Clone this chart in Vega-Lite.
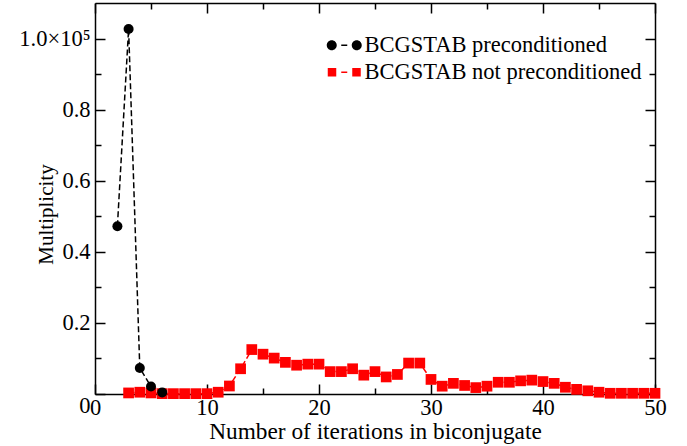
{
  "$schema": "https://vega.github.io/schema/vega-lite/v6.json",
  "width": 560,
  "height": 391,
  "autosize": "none",
  "padding": {"left": 95, "top": 3, "right": 32, "bottom": 52},
  "background": "white",
  "config": {
    "view": {"stroke": null},
    "font": "Liberation Serif",
    "axis": {
      "labelFont": "Liberation Serif",
      "titleFont": "Liberation Serif",
      "labelFontSize": 22.5,
      "titleFontSize": 23.3,
      "titleFontWeight": "normal",
      "labelColor": "black",
      "titleColor": "black",
      "domainColor": "black",
      "domainWidth": 1.5,
      "tickColor": "black",
      "tickWidth": 1.5,
      "labelFlush": false,
      "grid": false
    }
  },
  "data": {
    "values": [
      {"series": "BCGSTAB preconditioned", "x": 2, "y": 47200},
      {"series": "BCGSTAB preconditioned", "x": 3, "y": 102700},
      {"series": "BCGSTAB preconditioned", "x": 4, "y": 7300},
      {"series": "BCGSTAB preconditioned", "x": 5, "y": 2100},
      {"series": "BCGSTAB preconditioned", "x": 6, "y": 450},
      {"series": "BCGSTAB not preconditioned", "x": 3, "y": 300},
      {"series": "BCGSTAB not preconditioned", "x": 4, "y": 500},
      {"series": "BCGSTAB not preconditioned", "x": 5, "y": 300},
      {"series": "BCGSTAB not preconditioned", "x": 6, "y": 100},
      {"series": "BCGSTAB not preconditioned", "x": 7, "y": 100},
      {"series": "BCGSTAB not preconditioned", "x": 8, "y": 100},
      {"series": "BCGSTAB not preconditioned", "x": 9, "y": 100},
      {"series": "BCGSTAB not preconditioned", "x": 10, "y": 100},
      {"series": "BCGSTAB not preconditioned", "x": 11, "y": 500},
      {"series": "BCGSTAB not preconditioned", "x": 12, "y": 2250},
      {"series": "BCGSTAB not preconditioned", "x": 13, "y": 7100},
      {"series": "BCGSTAB not preconditioned", "x": 14, "y": 12500},
      {"series": "BCGSTAB not preconditioned", "x": 15, "y": 11200},
      {"series": "BCGSTAB not preconditioned", "x": 16, "y": 10100},
      {"series": "BCGSTAB not preconditioned", "x": 17, "y": 8900},
      {"series": "BCGSTAB not preconditioned", "x": 18, "y": 8100},
      {"series": "BCGSTAB not preconditioned", "x": 19, "y": 8400},
      {"series": "BCGSTAB not preconditioned", "x": 20, "y": 8400},
      {"series": "BCGSTAB not preconditioned", "x": 21, "y": 6300},
      {"series": "BCGSTAB not preconditioned", "x": 22, "y": 6300},
      {"series": "BCGSTAB not preconditioned", "x": 23, "y": 7100},
      {"series": "BCGSTAB not preconditioned", "x": 24, "y": 5300},
      {"series": "BCGSTAB not preconditioned", "x": 25, "y": 6300},
      {"series": "BCGSTAB not preconditioned", "x": 26, "y": 4800},
      {"series": "BCGSTAB not preconditioned", "x": 27, "y": 5500},
      {"series": "BCGSTAB not preconditioned", "x": 28, "y": 8700},
      {"series": "BCGSTAB not preconditioned", "x": 29, "y": 8700},
      {"series": "BCGSTAB not preconditioned", "x": 30, "y": 4100},
      {"series": "BCGSTAB not preconditioned", "x": 31, "y": 2200},
      {"series": "BCGSTAB not preconditioned", "x": 32, "y": 3000},
      {"series": "BCGSTAB not preconditioned", "x": 33, "y": 2400},
      {"series": "BCGSTAB not preconditioned", "x": 34, "y": 1800},
      {"series": "BCGSTAB not preconditioned", "x": 35, "y": 2200},
      {"series": "BCGSTAB not preconditioned", "x": 36, "y": 3300},
      {"series": "BCGSTAB not preconditioned", "x": 37, "y": 3300},
      {"series": "BCGSTAB not preconditioned", "x": 38, "y": 3700},
      {"series": "BCGSTAB not preconditioned", "x": 39, "y": 3900},
      {"series": "BCGSTAB not preconditioned", "x": 40, "y": 3500},
      {"series": "BCGSTAB not preconditioned", "x": 41, "y": 3000},
      {"series": "BCGSTAB not preconditioned", "x": 42, "y": 1900},
      {"series": "BCGSTAB not preconditioned", "x": 43, "y": 1300},
      {"series": "BCGSTAB not preconditioned", "x": 44, "y": 900},
      {"series": "BCGSTAB not preconditioned", "x": 45, "y": 500},
      {"series": "BCGSTAB not preconditioned", "x": 46, "y": 200},
      {"series": "BCGSTAB not preconditioned", "x": 47, "y": 200},
      {"series": "BCGSTAB not preconditioned", "x": 48, "y": 200},
      {"series": "BCGSTAB not preconditioned", "x": 49, "y": 200},
      {"series": "BCGSTAB not preconditioned", "x": 50, "y": 200}
    ]
  },
  "resolve": {"axis": {"x": "independent", "y": "independent"}},
  "layer": [
    {
      "transform": [{"filter": "datum.series === 'BCGSTAB preconditioned'"}],
      "mark": {"type": "line", "strokeDash": [6, 3], "strokeWidth": 1.5},
      "encoding": {
        "x": {"field": "x", "type": "quantitative", "scale": {"domain": [0, 50], "nice": false},
          "axis": {"orient": "bottom", "values": [0, 10, 20, 30, 40, 50], "tickSize": -10, "labelPadding": 30, "labelBaseline": "alphabetic", "title": "Number of iterations in biconjugate", "titleBaseline": "alphabetic", "titleY": 44}},
        "y": {"field": "y", "type": "quantitative", "scale": {"domain": [0, 110000], "nice": false},
          "axis": {"orient": "left", "values": [0, 20000, 40000, 60000, 80000, 100000], "tickSize": -10, "labelPadding": 15,
            "labelExpr": "datum.value == 0 ? '0' : (datum.value == 100000 ? '1.0×10⁵' : format(datum.value / 100000, '.1f'))",
            "labelBaseline": {"condition": {"test": "datum.value == 0", "value": "top"}, "value": "middle"},
            "title": "Multiplicity", "titleFontSize": 21, "titleBaseline": "alphabetic", "titleAngle": -90, "titleX": -43, "titleY": 211}},
        "color": {"field": "series", "type": "nominal", "scale": {"domain": ["BCGSTAB preconditioned", "BCGSTAB not preconditioned"], "range": ["#000000", "#ff0000"]},
          "legend": {
            "orient": "none", "legendX": 238, "legendY": 31, "title": null, "padding": 0,
            "labelFont": "Liberation Serif", "labelFontSize": 22.5, "labelColor": "black", "labelLimit": 0,
            "labelOffset": 9, "symbolSize": 100, "rowPadding": 4, "symbolType": "circle",
            "encode": {"symbols": {"update": {
              "shape": {"signal": "datum.value === 'BCGSTAB preconditioned' ? 'M -3.5,0 A 1,1 0 1,0 -1.5,0 A 1,1 0 1,0 -3.5,0 Z M 1.5,0 A 1,1 0 1,0 3.5,0 A 1,1 0 1,0 1.5,0 Z M -0.6,-0.16 L 0.6,-0.16 L 0.6,0.16 L -0.6,0.16 Z' : 'M -3.3,-0.85 L -1.6,-0.85 L -1.6,0.85 L -3.3,0.85 Z M 1.6,-0.85 L 3.3,-0.85 L 3.3,0.85 L 1.6,0.85 Z M -0.6,-0.16 L 0.6,-0.16 L 0.6,0.16 L -0.6,0.16 Z'"},
              "fill": {"signal": "datum.value === 'BCGSTAB preconditioned' ? '#000000' : '#ff0000'"},
              "stroke": {"value": null},
              "strokeWidth": {"value": 0},
              "strokeDash": {"value": []},
              "opacity": {"value": 1},
              "fillOpacity": {"value": 1}
            }}}
          }}
      }
    },
    {
      "transform": [{"filter": "datum.series === 'BCGSTAB not preconditioned'"}],
      "mark": {"type": "line", "strokeDash": [6, 3], "strokeWidth": 1.5},
      "encoding": {
        "x": {"field": "x", "type": "quantitative", "axis": {"orient": "top", "values": [0, 10, 20, 30, 40, 50], "tickSize": -10, "labels": false, "title": null}},
        "y": {"field": "y", "type": "quantitative", "axis": {"orient": "right", "values": [0, 20000, 40000, 60000, 80000, 100000], "tickSize": -10, "labels": false, "title": null}},
        "color": {"field": "series", "type": "nominal"}
      }
    },
    {
      "transform": [{"filter": "datum.series === 'BCGSTAB not preconditioned'"}],
      "mark": {"type": "point", "shape": "square", "filled": true, "size": 115, "opacity": 1},
      "encoding": {
        "x": {"field": "x", "type": "quantitative", "axis": {"orient": "bottom", "values": [5, 15, 25, 35, 45], "tickSize": -6, "labels": false, "domain": false, "title": null}},
        "y": {"field": "y", "type": "quantitative", "axis": {"orient": "left", "values": [10000, 30000, 50000, 70000, 90000], "tickSize": -6, "labels": false, "domain": false, "title": null}},
        "color": {"field": "series", "type": "nominal"}
      }
    },
    {
      "transform": [{"filter": "datum.series === 'BCGSTAB preconditioned'"}],
      "mark": {"type": "point", "shape": "circle", "filled": true, "size": 100, "opacity": 1},
      "encoding": {
        "x": {"field": "x", "type": "quantitative", "axis": {"orient": "top", "values": [5, 15, 25, 35, 45], "tickSize": -6, "labels": false, "domain": false, "title": null}},
        "y": {"field": "y", "type": "quantitative", "axis": {"orient": "right", "values": [10000, 30000, 50000, 70000, 90000], "tickSize": -6, "labels": false, "domain": false, "title": null}},
        "color": {"field": "series", "type": "nominal"}
      }
    }
  ]
}
